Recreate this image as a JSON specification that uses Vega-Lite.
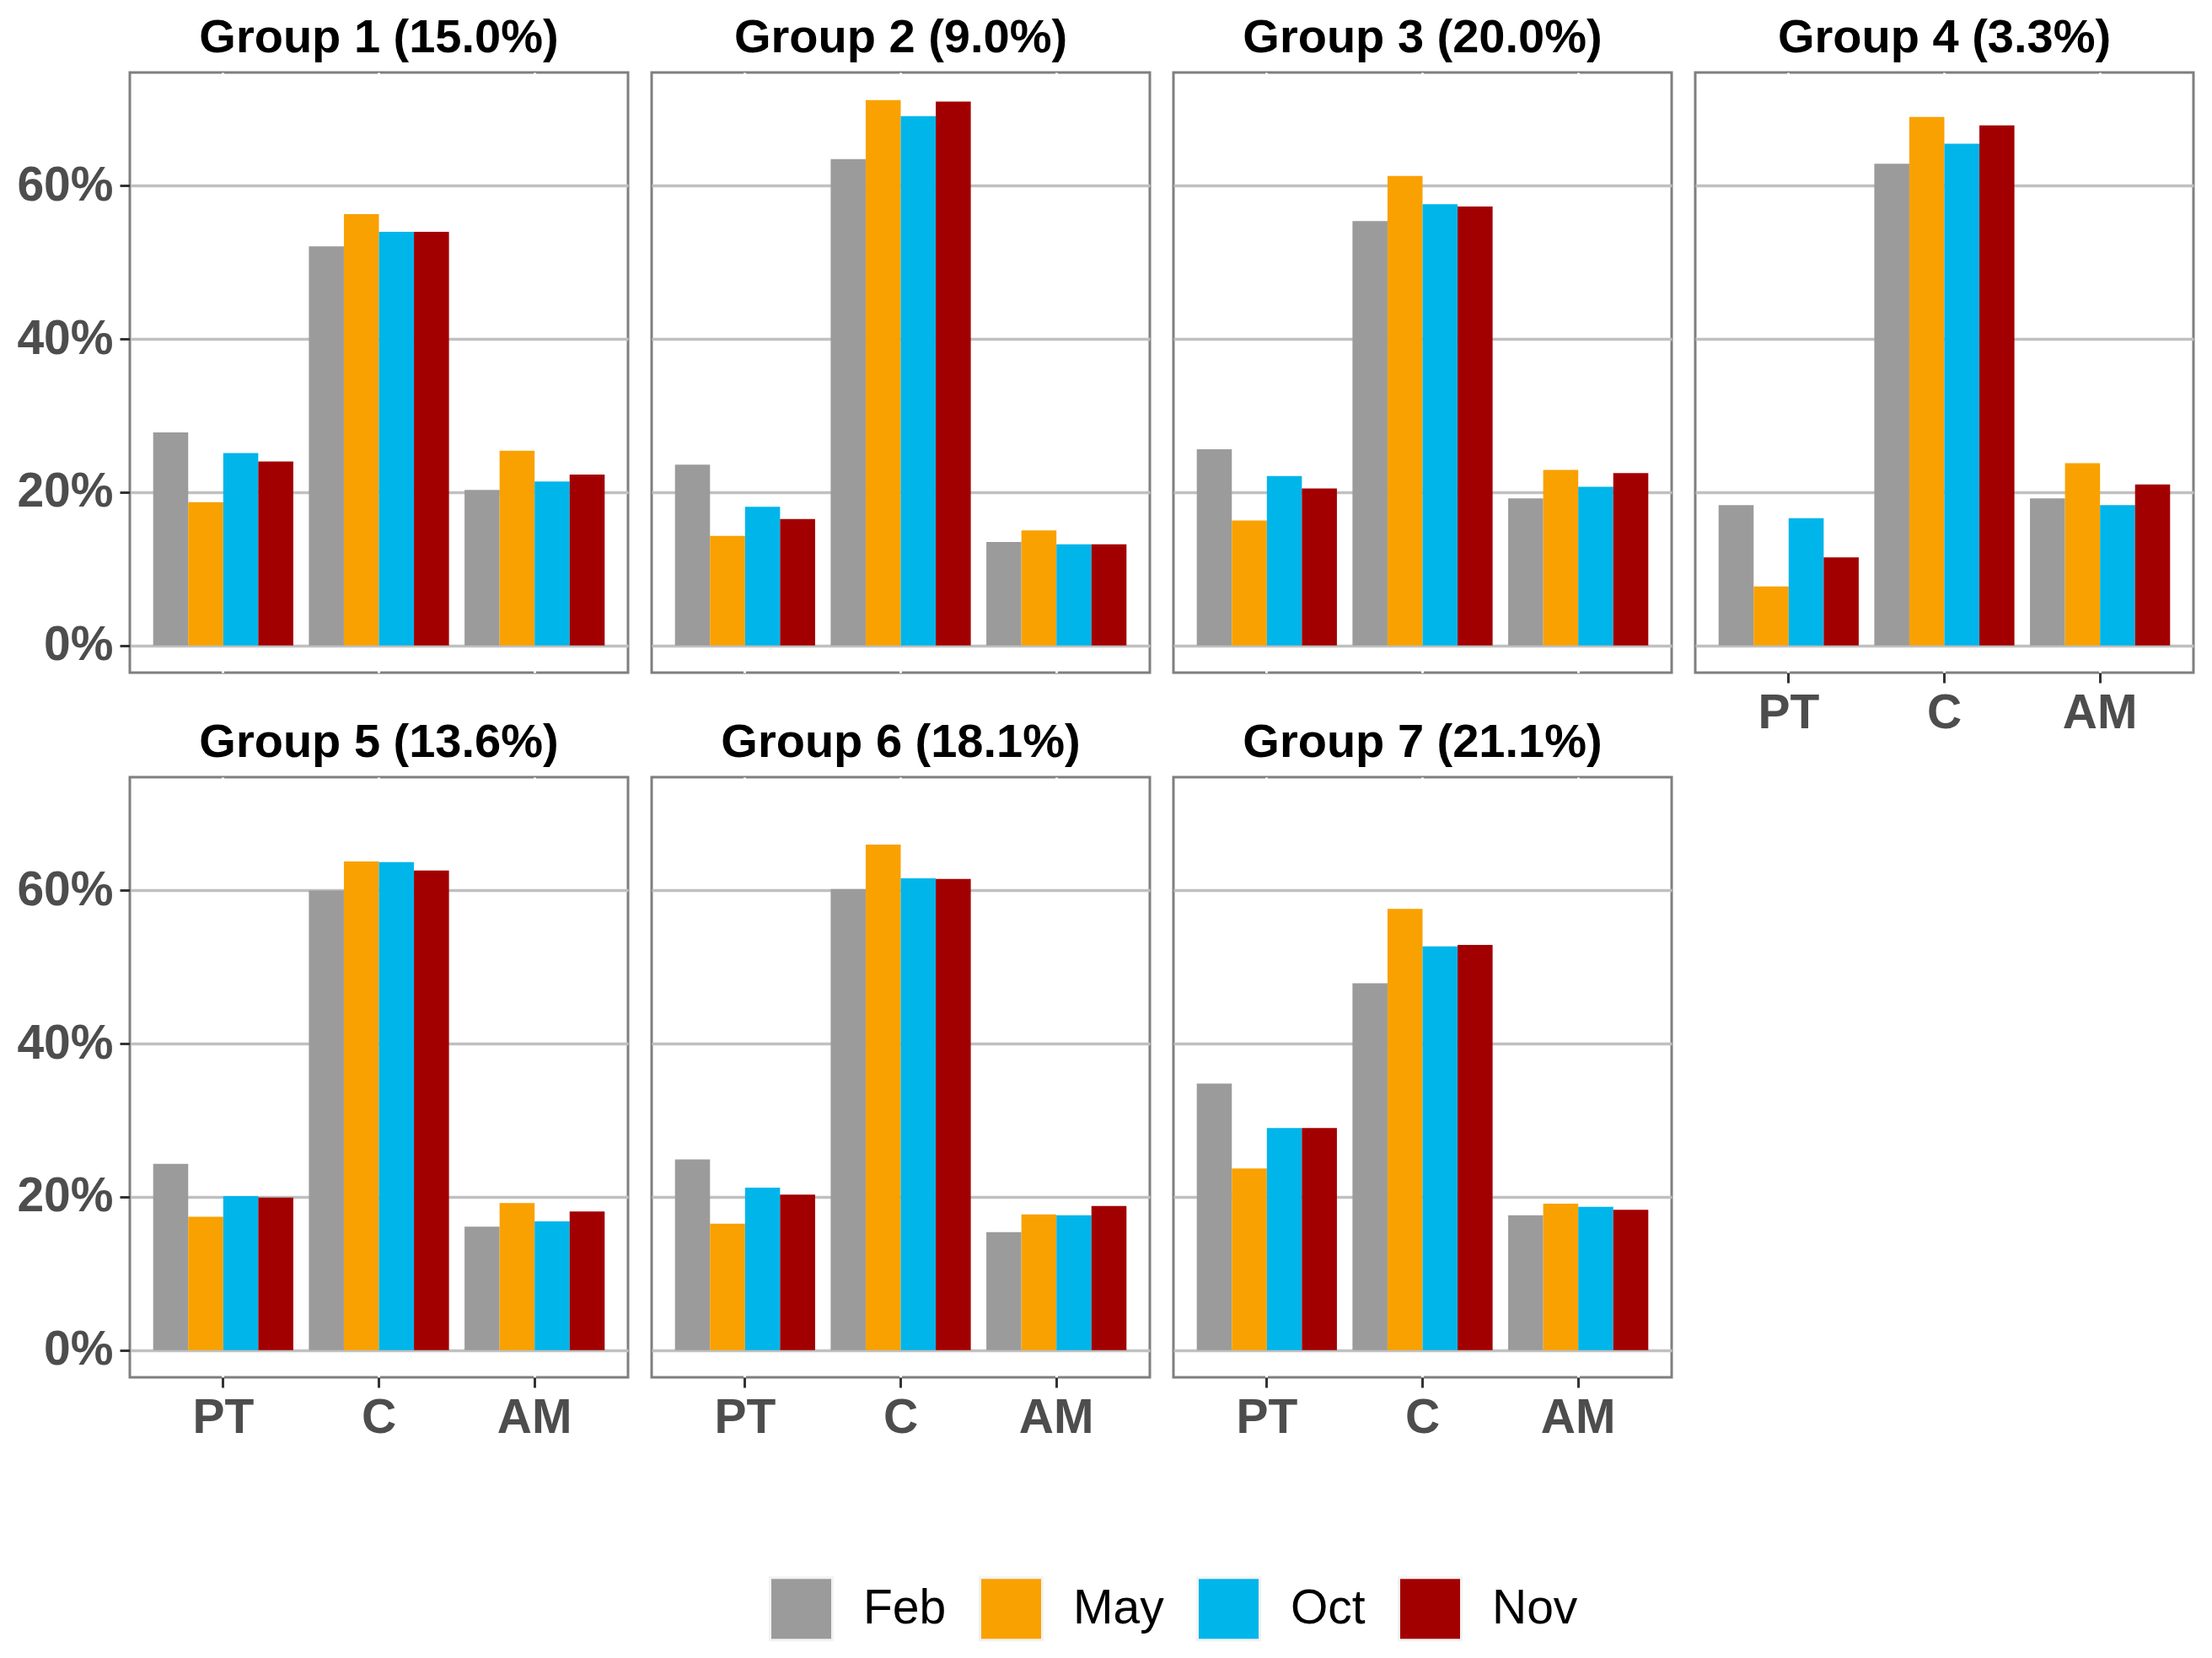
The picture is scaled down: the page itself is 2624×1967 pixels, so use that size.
{
  "$schema": "https://vega.github.io/schema/vega-lite/v6.json",
  "background": "white",
  "padding": {"left": 18, "top": 15, "right": 10, "bottom": 10},
  "data": {
    "values": [
      {"group": "Group 1 (15.0%)", "cat": "PT", "month": "Feb", "pct": 27.8},
      {"group": "Group 1 (15.0%)", "cat": "PT", "month": "May", "pct": 18.7},
      {"group": "Group 1 (15.0%)", "cat": "PT", "month": "Oct", "pct": 25.1},
      {"group": "Group 1 (15.0%)", "cat": "PT", "month": "Nov", "pct": 24.0},
      {"group": "Group 1 (15.0%)", "cat": "C", "month": "Feb", "pct": 52.1},
      {"group": "Group 1 (15.0%)", "cat": "C", "month": "May", "pct": 56.3},
      {"group": "Group 1 (15.0%)", "cat": "C", "month": "Oct", "pct": 54.0},
      {"group": "Group 1 (15.0%)", "cat": "C", "month": "Nov", "pct": 54.0},
      {"group": "Group 1 (15.0%)", "cat": "AM", "month": "Feb", "pct": 20.3},
      {"group": "Group 1 (15.0%)", "cat": "AM", "month": "May", "pct": 25.4},
      {"group": "Group 1 (15.0%)", "cat": "AM", "month": "Oct", "pct": 21.4},
      {"group": "Group 1 (15.0%)", "cat": "AM", "month": "Nov", "pct": 22.3},
      {"group": "Group 2 (9.0%)", "cat": "PT", "month": "Feb", "pct": 23.6},
      {"group": "Group 2 (9.0%)", "cat": "PT", "month": "May", "pct": 14.3},
      {"group": "Group 2 (9.0%)", "cat": "PT", "month": "Oct", "pct": 18.1},
      {"group": "Group 2 (9.0%)", "cat": "PT", "month": "Nov", "pct": 16.5},
      {"group": "Group 2 (9.0%)", "cat": "C", "month": "Feb", "pct": 63.5},
      {"group": "Group 2 (9.0%)", "cat": "C", "month": "May", "pct": 71.2},
      {"group": "Group 2 (9.0%)", "cat": "C", "month": "Oct", "pct": 69.1},
      {"group": "Group 2 (9.0%)", "cat": "C", "month": "Nov", "pct": 71.0},
      {"group": "Group 2 (9.0%)", "cat": "AM", "month": "Feb", "pct": 13.5},
      {"group": "Group 2 (9.0%)", "cat": "AM", "month": "May", "pct": 15.0},
      {"group": "Group 2 (9.0%)", "cat": "AM", "month": "Oct", "pct": 13.2},
      {"group": "Group 2 (9.0%)", "cat": "AM", "month": "Nov", "pct": 13.2},
      {"group": "Group 3 (20.0%)", "cat": "PT", "month": "Feb", "pct": 25.6},
      {"group": "Group 3 (20.0%)", "cat": "PT", "month": "May", "pct": 16.3},
      {"group": "Group 3 (20.0%)", "cat": "PT", "month": "Oct", "pct": 22.1},
      {"group": "Group 3 (20.0%)", "cat": "PT", "month": "Nov", "pct": 20.5},
      {"group": "Group 3 (20.0%)", "cat": "C", "month": "Feb", "pct": 55.4},
      {"group": "Group 3 (20.0%)", "cat": "C", "month": "May", "pct": 61.3},
      {"group": "Group 3 (20.0%)", "cat": "C", "month": "Oct", "pct": 57.6},
      {"group": "Group 3 (20.0%)", "cat": "C", "month": "Nov", "pct": 57.3},
      {"group": "Group 3 (20.0%)", "cat": "AM", "month": "Feb", "pct": 19.2},
      {"group": "Group 3 (20.0%)", "cat": "AM", "month": "May", "pct": 22.9},
      {"group": "Group 3 (20.0%)", "cat": "AM", "month": "Oct", "pct": 20.7},
      {"group": "Group 3 (20.0%)", "cat": "AM", "month": "Nov", "pct": 22.5},
      {"group": "Group 4 (3.3%)", "cat": "PT", "month": "Feb", "pct": 18.3},
      {"group": "Group 4 (3.3%)", "cat": "PT", "month": "May", "pct": 7.7},
      {"group": "Group 4 (3.3%)", "cat": "PT", "month": "Oct", "pct": 16.6},
      {"group": "Group 4 (3.3%)", "cat": "PT", "month": "Nov", "pct": 11.5},
      {"group": "Group 4 (3.3%)", "cat": "C", "month": "Feb", "pct": 62.9},
      {"group": "Group 4 (3.3%)", "cat": "C", "month": "May", "pct": 69.0},
      {"group": "Group 4 (3.3%)", "cat": "C", "month": "Oct", "pct": 65.5},
      {"group": "Group 4 (3.3%)", "cat": "C", "month": "Nov", "pct": 67.9},
      {"group": "Group 4 (3.3%)", "cat": "AM", "month": "Feb", "pct": 19.2},
      {"group": "Group 4 (3.3%)", "cat": "AM", "month": "May", "pct": 23.8},
      {"group": "Group 4 (3.3%)", "cat": "AM", "month": "Oct", "pct": 18.3},
      {"group": "Group 4 (3.3%)", "cat": "AM", "month": "Nov", "pct": 21.0},
      {"group": "Group 5 (13.6%)", "cat": "PT", "month": "Feb", "pct": 24.3},
      {"group": "Group 5 (13.6%)", "cat": "PT", "month": "May", "pct": 17.4},
      {"group": "Group 5 (13.6%)", "cat": "PT", "month": "Oct", "pct": 20.1},
      {"group": "Group 5 (13.6%)", "cat": "PT", "month": "Nov", "pct": 19.9},
      {"group": "Group 5 (13.6%)", "cat": "C", "month": "Feb", "pct": 60.0},
      {"group": "Group 5 (13.6%)", "cat": "C", "month": "May", "pct": 63.8},
      {"group": "Group 5 (13.6%)", "cat": "C", "month": "Oct", "pct": 63.7},
      {"group": "Group 5 (13.6%)", "cat": "C", "month": "Nov", "pct": 62.6},
      {"group": "Group 5 (13.6%)", "cat": "AM", "month": "Feb", "pct": 16.1},
      {"group": "Group 5 (13.6%)", "cat": "AM", "month": "May", "pct": 19.2},
      {"group": "Group 5 (13.6%)", "cat": "AM", "month": "Oct", "pct": 16.8},
      {"group": "Group 5 (13.6%)", "cat": "AM", "month": "Nov", "pct": 18.1},
      {"group": "Group 6 (18.1%)", "cat": "PT", "month": "Feb", "pct": 24.9},
      {"group": "Group 6 (18.1%)", "cat": "PT", "month": "May", "pct": 16.5},
      {"group": "Group 6 (18.1%)", "cat": "PT", "month": "Oct", "pct": 21.2},
      {"group": "Group 6 (18.1%)", "cat": "PT", "month": "Nov", "pct": 20.3},
      {"group": "Group 6 (18.1%)", "cat": "C", "month": "Feb", "pct": 60.2},
      {"group": "Group 6 (18.1%)", "cat": "C", "month": "May", "pct": 66.0},
      {"group": "Group 6 (18.1%)", "cat": "C", "month": "Oct", "pct": 61.6},
      {"group": "Group 6 (18.1%)", "cat": "C", "month": "Nov", "pct": 61.5},
      {"group": "Group 6 (18.1%)", "cat": "AM", "month": "Feb", "pct": 15.4},
      {"group": "Group 6 (18.1%)", "cat": "AM", "month": "May", "pct": 17.7},
      {"group": "Group 6 (18.1%)", "cat": "AM", "month": "Oct", "pct": 17.6},
      {"group": "Group 6 (18.1%)", "cat": "AM", "month": "Nov", "pct": 18.8},
      {"group": "Group 7 (21.1%)", "cat": "PT", "month": "Feb", "pct": 34.8},
      {"group": "Group 7 (21.1%)", "cat": "PT", "month": "May", "pct": 23.7},
      {"group": "Group 7 (21.1%)", "cat": "PT", "month": "Oct", "pct": 29.0},
      {"group": "Group 7 (21.1%)", "cat": "PT", "month": "Nov", "pct": 29.0},
      {"group": "Group 7 (21.1%)", "cat": "C", "month": "Feb", "pct": 47.9},
      {"group": "Group 7 (21.1%)", "cat": "C", "month": "May", "pct": 57.6},
      {"group": "Group 7 (21.1%)", "cat": "C", "month": "Oct", "pct": 52.7},
      {"group": "Group 7 (21.1%)", "cat": "C", "month": "Nov", "pct": 52.9},
      {"group": "Group 7 (21.1%)", "cat": "AM", "month": "Feb", "pct": 17.6},
      {"group": "Group 7 (21.1%)", "cat": "AM", "month": "May", "pct": 19.1},
      {"group": "Group 7 (21.1%)", "cat": "AM", "month": "Oct", "pct": 18.7},
      {"group": "Group 7 (21.1%)", "cat": "AM", "month": "Nov", "pct": 18.3}
    ]
  },
  "columns": 4,
  "spacing": {"row": -25, "column": 24},
  "concat": [
    {
      "title": "Group 1 (15.0%)",
      "transform": [{"filter": "datum.group == 'Group 1 (15.0%)'"}],
      "width": 591, "height": 712, "mark": "bar",
      "encoding": {
        "x": {"field": "cat", "type": "nominal", "sort": ["PT", "C", "AM"], "title": null, "scale": {"paddingInner": 0.1, "paddingOuter": 0.15}, "axis": {"labels": false, "ticks": false}},
        "xOffset": {"field": "month", "type": "nominal", "sort": ["Feb", "May", "Oct", "Nov"], "scale": {"paddingInner": 0, "paddingOuter": 0}},
        "y": {"field": "pct", "type": "quantitative", "title": null, "scale": {"domain": [-3.56, 74.8], "nice": false, "zero": false}, "axis": {"values": [0, 20, 40, 60], "labelExpr": "datum.value + '%'"}},
        "color": {"field": "month", "type": "nominal", "scale": {"domain": ["Feb", "May", "Oct", "Nov"], "range": ["#9b9b9b", "#f9a100", "#00b5ea", "#a20000"]}, "legend": {"title": null, "orient": "none", "direction": "horizontal", "legendX": 758, "legendY": 1784}}
      }
    },
    {
      "title": "Group 2 (9.0%)",
      "transform": [{"filter": "datum.group == 'Group 2 (9.0%)'"}],
      "width": 591, "height": 712, "mark": "bar",
      "encoding": {
        "x": {"field": "cat", "type": "nominal", "sort": ["PT", "C", "AM"], "title": null, "scale": {"paddingInner": 0.1, "paddingOuter": 0.15}, "axis": {"labels": false, "ticks": false}},
        "xOffset": {"field": "month", "type": "nominal", "sort": ["Feb", "May", "Oct", "Nov"], "scale": {"paddingInner": 0, "paddingOuter": 0}},
        "y": {"field": "pct", "type": "quantitative", "title": null, "scale": {"domain": [-3.56, 74.8], "nice": false, "zero": false}, "axis": {"values": [0, 20, 40, 60], "labels": false, "ticks": false}},
        "color": {"field": "month", "type": "nominal", "scale": {"domain": ["Feb", "May", "Oct", "Nov"], "range": ["#9b9b9b", "#f9a100", "#00b5ea", "#a20000"]}, "legend": {"title": null, "orient": "none", "direction": "horizontal", "legendX": 758, "legendY": 1784}}
      }
    },
    {
      "title": "Group 3 (20.0%)",
      "transform": [{"filter": "datum.group == 'Group 3 (20.0%)'"}],
      "width": 591, "height": 712, "mark": "bar",
      "encoding": {
        "x": {"field": "cat", "type": "nominal", "sort": ["PT", "C", "AM"], "title": null, "scale": {"paddingInner": 0.1, "paddingOuter": 0.15}, "axis": {"labels": false, "ticks": false}},
        "xOffset": {"field": "month", "type": "nominal", "sort": ["Feb", "May", "Oct", "Nov"], "scale": {"paddingInner": 0, "paddingOuter": 0}},
        "y": {"field": "pct", "type": "quantitative", "title": null, "scale": {"domain": [-3.56, 74.8], "nice": false, "zero": false}, "axis": {"values": [0, 20, 40, 60], "labels": false, "ticks": false}},
        "color": {"field": "month", "type": "nominal", "scale": {"domain": ["Feb", "May", "Oct", "Nov"], "range": ["#9b9b9b", "#f9a100", "#00b5ea", "#a20000"]}, "legend": {"title": null, "orient": "none", "direction": "horizontal", "legendX": 758, "legendY": 1784}}
      }
    },
    {
      "title": "Group 4 (3.3%)",
      "transform": [{"filter": "datum.group == 'Group 4 (3.3%)'"}],
      "width": 591, "height": 712, "mark": "bar",
      "encoding": {
        "x": {"field": "cat", "type": "nominal", "sort": ["PT", "C", "AM"], "title": null, "scale": {"paddingInner": 0.1, "paddingOuter": 0.15}},
        "xOffset": {"field": "month", "type": "nominal", "sort": ["Feb", "May", "Oct", "Nov"], "scale": {"paddingInner": 0, "paddingOuter": 0}},
        "y": {"field": "pct", "type": "quantitative", "title": null, "scale": {"domain": [-3.56, 74.8], "nice": false, "zero": false}, "axis": {"values": [0, 20, 40, 60], "labels": false, "ticks": false}},
        "color": {"field": "month", "type": "nominal", "scale": {"domain": ["Feb", "May", "Oct", "Nov"], "range": ["#9b9b9b", "#f9a100", "#00b5ea", "#a20000"]}, "legend": {"title": null, "orient": "none", "direction": "horizontal", "legendX": 758, "legendY": 1784}}
      }
    },
    {
      "title": "Group 5 (13.6%)",
      "transform": [{"filter": "datum.group == 'Group 5 (13.6%)'"}],
      "width": 591, "height": 712, "mark": "bar",
      "encoding": {
        "x": {"field": "cat", "type": "nominal", "sort": ["PT", "C", "AM"], "title": null, "scale": {"paddingInner": 0.1, "paddingOuter": 0.15}},
        "xOffset": {"field": "month", "type": "nominal", "sort": ["Feb", "May", "Oct", "Nov"], "scale": {"paddingInner": 0, "paddingOuter": 0}},
        "y": {"field": "pct", "type": "quantitative", "title": null, "scale": {"domain": [-3.56, 74.8], "nice": false, "zero": false}, "axis": {"values": [0, 20, 40, 60], "labelExpr": "datum.value + '%'"}},
        "color": {"field": "month", "type": "nominal", "scale": {"domain": ["Feb", "May", "Oct", "Nov"], "range": ["#9b9b9b", "#f9a100", "#00b5ea", "#a20000"]}, "legend": {"title": null, "orient": "none", "direction": "horizontal", "legendX": 758, "legendY": 1784}}
      }
    },
    {
      "title": "Group 6 (18.1%)",
      "transform": [{"filter": "datum.group == 'Group 6 (18.1%)'"}],
      "width": 591, "height": 712, "mark": "bar",
      "encoding": {
        "x": {"field": "cat", "type": "nominal", "sort": ["PT", "C", "AM"], "title": null, "scale": {"paddingInner": 0.1, "paddingOuter": 0.15}},
        "xOffset": {"field": "month", "type": "nominal", "sort": ["Feb", "May", "Oct", "Nov"], "scale": {"paddingInner": 0, "paddingOuter": 0}},
        "y": {"field": "pct", "type": "quantitative", "title": null, "scale": {"domain": [-3.56, 74.8], "nice": false, "zero": false}, "axis": {"values": [0, 20, 40, 60], "labels": false, "ticks": false}},
        "color": {"field": "month", "type": "nominal", "scale": {"domain": ["Feb", "May", "Oct", "Nov"], "range": ["#9b9b9b", "#f9a100", "#00b5ea", "#a20000"]}, "legend": {"title": null, "orient": "none", "direction": "horizontal", "legendX": 758, "legendY": 1784}}
      }
    },
    {
      "title": "Group 7 (21.1%)",
      "transform": [{"filter": "datum.group == 'Group 7 (21.1%)'"}],
      "width": 591, "height": 712, "mark": "bar",
      "encoding": {
        "x": {"field": "cat", "type": "nominal", "sort": ["PT", "C", "AM"], "title": null, "scale": {"paddingInner": 0.1, "paddingOuter": 0.15}},
        "xOffset": {"field": "month", "type": "nominal", "sort": ["Feb", "May", "Oct", "Nov"], "scale": {"paddingInner": 0, "paddingOuter": 0}},
        "y": {"field": "pct", "type": "quantitative", "title": null, "scale": {"domain": [-3.56, 74.8], "nice": false, "zero": false}, "axis": {"values": [0, 20, 40, 60], "labels": false, "ticks": false}},
        "color": {"field": "month", "type": "nominal", "scale": {"domain": ["Feb", "May", "Oct", "Nov"], "range": ["#9b9b9b", "#f9a100", "#00b5ea", "#a20000"]}, "legend": {"title": null, "orient": "none", "direction": "horizontal", "legendX": 758, "legendY": 1784}}
      }
    }
  ],
  "config": {
    "view": {"stroke": "#7f7f7f", "strokeWidth": 3},
    "bar": {"stroke": null},
    "title": {"font": "Liberation Sans", "fontSize": 56, "fontWeight": "bold", "color": "#000000", "anchor": "middle", "offset": 12},
    "axis": {
      "labelFont": "Liberation Sans",
      "labelFontSize": 57,
      "labelFontWeight": "bold",
      "labelColor": "#4d4d4d",
      "labelPadding": 8,
      "tickSize": 12,
      "tickWidth": 3,
      "tickColor": "#333333",
      "domain": false,
      "grid": true
    },
    "axisX": {"labelAngle": 0, "gridColor": "#ffffff", "gridWidth": 3},
    "axisY": {"gridColor": "#c0c0c0", "gridWidth": 3.5},
    "legend": {
      "symbolType": "square",
      "symbolSize": 5476,
      "symbolStrokeColor": "#f2f2f2",
      "symbolStrokeWidth": 3,
      "symbolOpacity": 1,
      "labelFont": "Liberation Sans",
      "labelFontSize": 57,
      "labelColor": "#000000",
      "labelOffset": 35,
      "columnPadding": 33
    }
  }
}
